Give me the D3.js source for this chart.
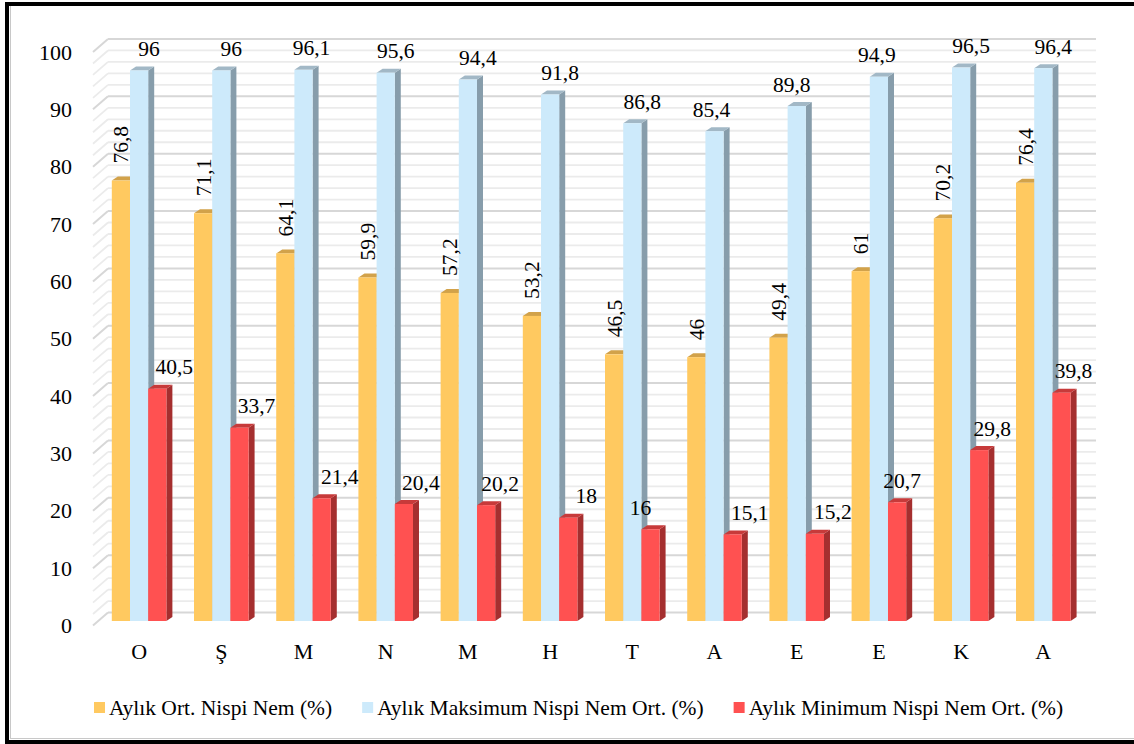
<!DOCTYPE html>
<html>
<head>
<meta charset="utf-8">
<script src="https://cdn.jsdelivr.net/npm/d3@7/dist/d3.min.js"></script>
<style>
  html, body { margin: 0; padding: 0; background: #fff; }
  svg { display: block; }
</style>
</head>
<body>
<svg id="chart" width="1134" height="744"></svg>
<script>
// Monthly relative humidity: average, mean maximum and mean minimum (%)
const months = ["O", "Ş", "M", "N", "M", "H", "T", "A", "E", "E", "K", "A"];
const avgHumidity = [76.8, 71.1, 64.1, 59.9, 57.2, 53.2, 46.5, 46, 49.4, 61, 70.2, 76.4];
const maxHumidity = [96, 96, 96.1, 95.6, 94.4, 91.8, 86.8, 85.4, 89.8, 94.9, 96.5, 96.4];
const minHumidity = [40.5, 33.7, 21.4, 20.4, 20.2, 18, 16, 15.1, 15.2, 20.7, 29.8, 39.8];
const seriesNames = ["Aylık Ort. Nispi Nem (%)", "Aylık Maksimum Nispi Nem Ort. (%)", "Aylık Minimum Nispi Nem Ort. (%)"];
const yTicks = [0, 10, 20, 30, 40, 50, 60, 70, 80, 90, 100];
const yMinorTicks = d3.range(0, 101, 2);

// Horizontal nudges for the value labels of the max / min series
const maxLabelNudge = [10, 10, 8, 10, 10, 10, 10, -3, -5, -2, 10, 10];
const minLabelNudge = [17, 17, 18, 17, 14, 18, -10, 17, 18, 5, 13, 12];

const FONT = '"Liberation Serif", "Times New Roman", Times, serif';

const series = [
  { name: seriesNames[0], values: avgHumidity, front: "#FFC960", top: "#D2A24A", side: "#C99A45", label: "rotated" },
  { name: seriesNames[1], values: maxHumidity, front: "#CDEAFB", top: "#A2B8C6", side: "#879DAB", label: "flat", nudge: maxLabelNudge },
  { name: seriesNames[2], values: minHumidity, front: "#FF5151", top: "#C73A3A", side: "#A52F2F", label: "flat", nudge: minLabelNudge }
];

const svg = d3.select("#chart");
const fmt = v => String(v).replace(".", ",");
const txt = sel => sel.style("font-family", FONT).style("fill", "#000");

// 3D depth of each bar (right / up)
const DX = 6, DY = 4;
// Wall offsets relative to the bar plane
const WALL_BACK = -8.5, WALL_FRONT = 4.5;
const WALL_X0 = 108, WALL_X1 = 1096, FLOOR_X0 = 93;

const y = d3.scaleLinear().domain([0, 100]).range([621, 621 - 573.5]);
const x0 = d3.scaleBand().domain(d3.range(months.length)).range([98, 98 + 82.2 * 12])
  .paddingInner(0.336).paddingOuter(0.168);
const x1 = d3.scaleBand().domain(d3.range(series.length)).range([0, x0.bandwidth()]);

// Frame
svg.append("rect").attr("x", 0).attr("y", 0).attr("width", 1134).attr("height", 744).attr("fill", "#fff");
svg.append("line").attr("x1", 10.5).attr("x2", 10.5).attr("y1", 6).attr("y2", 739)
  .attr("stroke", "#c8c8c8").attr("stroke-width", 1);
svg.append("line").attr("x1", 10).attr("x2", 1134).attr("y1", 738.5).attr("y2", 738.5)
  .attr("stroke", "#c8c8c8").attr("stroke-width", 1);
svg.append("rect").attr("x", 7).attr("y", 4).attr("width", 1140).attr("height", 738)
  .attr("fill", "none").attr("stroke", "#000").attr("stroke-width", 4);

// Back wall gridlines with the floor-side diagonal
const grid = svg.append("g");
yMinorTicks.forEach(v => {
  const major = v % 10 === 0;
  const color = major ? "#d7d7d7" : "#ebebeb";
  const sw = major ? 2 : 1.8;
  grid.append("line")
    .attr("x1", WALL_X0).attr("x2", WALL_X1)
    .attr("y1", y(v) + WALL_BACK).attr("y2", y(v) + WALL_BACK)
    .attr("stroke", color).attr("stroke-width", sw);
  grid.append("line")
    .attr("x1", FLOOR_X0).attr("x2", WALL_X0)
    .attr("y1", y(v) + WALL_FRONT).attr("y2", y(v) + WALL_BACK)
    .attr("stroke", color).attr("stroke-width", sw);
});

// Axes
const yAxis = svg.append("g").attr("transform", `translate(72,${WALL_FRONT})`)
  .call(d3.axisLeft(y).tickValues(yTicks).tickSize(0).tickPadding(0));
yAxis.attr("font-family", null).attr("font-size", null);
yAxis.select(".domain").remove();
yAxis.selectAll("text").call(txt).style("font-size", "22px");

const xAxis = svg.append("g").attr("transform", "translate(0,643)")
  .call(d3.axisBottom(x0).tickFormat(i => months[i]).tickSize(0).tickPadding(0));
xAxis.attr("font-family", null).attr("font-size", null);
xAxis.select(".domain").remove();
xAxis.selectAll("text").call(txt).style("font-size", "22px");

// Bars drawn as prisms: side, top, front
const bars = svg.append("g");
months.forEach((m, i) => {
  series.forEach((s, k) => {
    const v = s.values[i];
    const bx = x0(i) + x1(k), bw = x1.bandwidth();
    const yt = y(v), yb = y(0);
    const g = bars.append("g");
    g.append("polygon")
      .attr("points", [[bx + bw, yt], [bx + bw + DX, yt - DY], [bx + bw + DX, yb - DY], [bx + bw, yb]].join(" "))
      .attr("fill", s.side);
    g.append("polygon")
      .attr("points", [[bx, yt], [bx + DX, yt - DY], [bx + bw + DX, yt - DY], [bx + bw, yt]].join(" "))
      .attr("fill", s.top);
    g.append("rect").attr("x", bx).attr("y", yt).attr("width", bw).attr("height", yb - yt)
      .attr("fill", s.front);
  });
});

// Value labels
const labels = svg.append("g");
months.forEach((m, i) => {
  series.forEach((s, k) => {
    const v = s.values[i];
    const cx = x0(i) + x1(k) + x1.bandwidth() / 2;
    const yt = y(v);
    if (s.label === "rotated") {
      labels.append("text")
        .attr("transform", `translate(${cx},${yt - 17}) rotate(-90)`)
        .attr("text-anchor", "start").attr("dy", "0.35em")
        .call(txt).style("font-size", "21.5px")
        .text(fmt(v));
    } else {
      labels.append("text")
        .attr("x", cx + s.nudge[i]).attr("y", yt - 22)
        .attr("text-anchor", "middle").attr("dy", "0.35em")
        .call(txt).style("font-size", "21.5px")
        .text(fmt(v));
    }
  });
});

// Legend
const legend = svg.append("g").attr("transform", "translate(94,707)");
let lx = 0;
series.forEach(s => {
  legend.append("rect").attr("x", lx).attr("y", -5).attr("width", 11).attr("height", 11).attr("fill", s.front);
  const t = legend.append("text").attr("x", lx + 15).attr("y", 0).attr("dy", "0.35em")
    .call(txt).style("font-size", "21.5px").text(s.name);
  lx += 15 + t.node().getComputedTextLength() + 30;
});
</script>
</body>
</html>
